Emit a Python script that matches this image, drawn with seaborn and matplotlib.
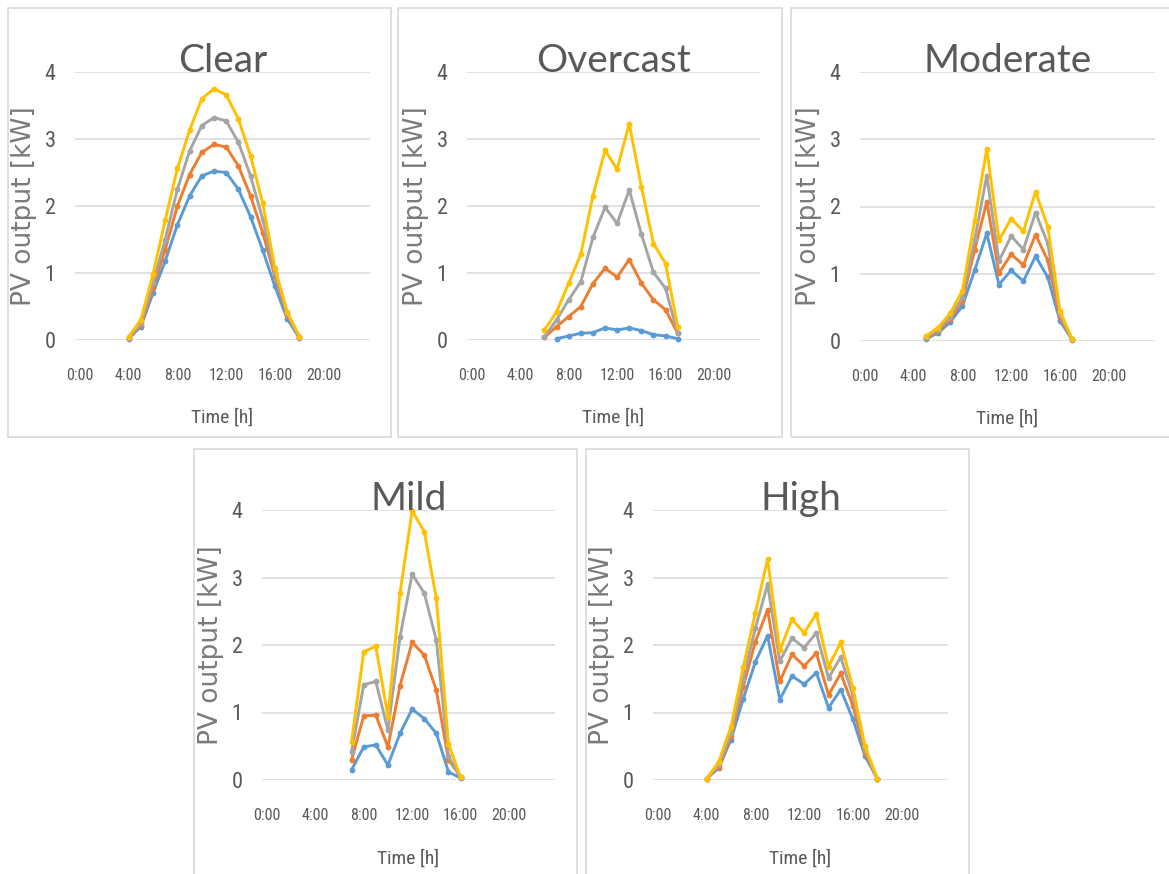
import numpy as np
import pandas as pd
import matplotlib
matplotlib.use("Agg")
import matplotlib.pyplot as plt
import matplotlib.font_manager as fm
from matplotlib.patches import Rectangle
import seaborn as sns

# ---------------- data ----------------
series_names = ["S1", "S2", "S3", "S4"]
series_colors = ["#5B9BD5", "#ED7D31", "#A5A5A5", "#FFC000"]

panel_titles = ["Clear", "Overcast", "Moderate", "Mild", "High"]

clear_hours = list(range(4, 19))
clear_s1 = [0.02, 0.2, 0.7, 1.18, 1.72, 2.15, 2.45, 2.52, 2.5, 2.25, 1.84, 1.34, 0.8, 0.32, 0.03]
clear_s2 = [0.03, 0.22, 0.78, 1.35, 2.0, 2.47, 2.8, 2.92, 2.88, 2.6, 2.15, 1.6, 0.95, 0.38, 0.05]
clear_s3 = [0.03, 0.25, 0.85, 1.5, 2.25, 2.82, 3.2, 3.32, 3.27, 2.95, 2.45, 1.8, 1.0, 0.4, 0.05]
clear_s4 = [0.05, 0.3, 0.98, 1.79, 2.56, 3.13, 3.6, 3.75, 3.66, 3.3, 2.75, 2.04, 1.08, 0.42, 0.05]

overcast_hours = list(range(6, 18))
overcast_hours_s1 = list(range(7, 18))
overcast_s1 = [0.02, 0.06, 0.1, 0.11, 0.18, 0.15, 0.18, 0.14, 0.08, 0.06, 0.02]
overcast_s2 = [0.04, 0.2, 0.35, 0.5, 0.84, 1.07, 0.94, 1.2, 0.85, 0.6, 0.45, 0.1]
overcast_s3 = [0.05, 0.3, 0.6, 0.87, 1.53, 1.98, 1.74, 2.24, 1.58, 1.01, 0.77, 0.1]
overcast_s4 = [0.15, 0.42, 0.85, 1.28, 2.15, 2.83, 2.55, 3.23, 2.29, 1.44, 1.14, 0.2]

moderate_hours = list(range(5, 18))
moderate_s1 = [0.03, 0.12, 0.28, 0.52, 1.05, 1.6, 0.84, 1.05, 0.89, 1.26, 0.95, 0.3, 0.02]
moderate_s2 = [0.04, 0.15, 0.32, 0.6, 1.35, 2.07, 1.01, 1.29, 1.13, 1.58, 1.2, 0.35, 0.03]
moderate_s3 = [0.05, 0.17, 0.35, 0.65, 1.5, 2.46, 1.19, 1.56, 1.36, 1.91, 1.45, 0.4, 0.03]
moderate_s4 = [0.07, 0.2, 0.41, 0.75, 1.78, 2.86, 1.5, 1.82, 1.63, 2.22, 1.7, 0.45, 0.03]

mild_hours = list(range(7, 17))
mild_s1 = [0.15, 0.49, 0.52, 0.22, 0.69, 1.05, 0.91, 0.69, 0.12, 0.03]
mild_s2 = [0.3, 0.95, 0.96, 0.49, 1.4, 2.04, 1.85, 1.33, 0.3, 0.05]
mild_s3 = [0.42, 1.41, 1.46, 0.74, 2.12, 3.05, 2.77, 2.07, 0.35, 0.04]
mild_s4 = [0.57, 1.9, 1.98, 0.94, 2.77, 3.99, 3.68, 2.69, 0.54, 0.04]

high_hours = list(range(4, 19))
high_s1 = [0.02, 0.18, 0.6, 1.2, 1.75, 2.14, 1.19, 1.54, 1.42, 1.59, 1.07, 1.34, 0.9, 0.35, 0.02]
high_s2 = [0.02, 0.2, 0.65, 1.38, 2.05, 2.52, 1.46, 1.86, 1.69, 1.88, 1.26, 1.58, 1.1, 0.4, 0.02]
high_s3 = [0.02, 0.22, 0.7, 1.5, 2.25, 2.9, 1.76, 2.1, 1.96, 2.18, 1.51, 1.82, 1.25, 0.45, 0.02]
high_s4 = [0.02, 0.27, 0.79, 1.67, 2.48, 3.27, 1.92, 2.38, 2.18, 2.46, 1.68, 2.04, 1.36, 0.5, 0.02]

x_ticks = [0, 4, 8, 12, 16, 20]
x_tick_labels = ["0:00", "4:00", "8:00", "12:00", "16:00", "20:00"]
y_ticks = [0, 1, 2, 3, 4]

panels = [
    (panel_titles[0], [(clear_hours, clear_s1), (clear_hours, clear_s2), (clear_hours, clear_s3), (clear_hours, clear_s4)]),
    (panel_titles[1], [(overcast_hours_s1, overcast_s1), (overcast_hours, overcast_s2), (overcast_hours, overcast_s3), (overcast_hours, overcast_s4)]),
    (panel_titles[2], [(moderate_hours, moderate_s1), (moderate_hours, moderate_s2), (moderate_hours, moderate_s3), (moderate_hours, moderate_s4)]),
    (panel_titles[3], [(mild_hours, mild_s1), (mild_hours, mild_s2), (mild_hours, mild_s3), (mild_hours, mild_s4)]),
    (panel_titles[4], [(high_hours, high_s1), (high_hours, high_s2), (high_hours, high_s3), (high_hours, high_s4)]),
]

# ---------------- style ----------------
sns.set_theme(style="white")


def pick(names):
    for n in names:
        try:
            fm.findfont(fm.FontProperties(family=n), fallback_to_default=False)
            return n
        except Exception:
            pass
    return "DejaVu Sans"


narrow = pick(["Liberation Sans Narrow", "DejaVu Sans Condensed", "Roboto Condensed", "Liberation Sans"])
title_font = pick(["Lato", "Open Sans", "DejaVu Sans"])
plt.rcParams["font.family"] = [narrow, "DejaVu Sans"]

W, H = 1169, 874
fig = plt.figure(figsize=(W / 100, H / 100), dpi=100)
fig.patch.set_facecolor("white")

# chart boxes (left, top, right, bottom) in pixels
boxes = [(8, 8, 391, 437), (398, 8, 782, 437), (791, 8, 1175, 437),
         (194, 449, 577, 880), (586, 449, 969, 880)]
# plot areas (left, top, right, bottom) in pixels
areas = [(75, 72, 370, 340), (467, 72, 760, 340), (860, 72, 1155, 341),
         (262, 510, 555, 780), (653, 510, 948, 780)]

for (l, t, r, b) in boxes:
    fig.patches.append(Rectangle((l / W, 1 - b / H), (r - l) / W, (b - t) / H,
                                 transform=fig.transFigure, facecolor="none",
                                 edgecolor="#d9d9d9", linewidth=1.2, zorder=0))

text_gray = "#595959"

for (title, series), (l, t, r, b) in zip(panels, areas):
    ax = fig.add_axes([l / W, 1 - b / H, (r - l) / W, (b - t) / H])
    ax.set_facecolor("none")
    rows = []
    for name, (hrs, vals) in zip(series_names, series):
        for h_, v in zip(hrs, vals):
            rows.append({"hour": h_, "kW": v, "series": name})
    df = pd.DataFrame(rows)
    sns.lineplot(data=df, x="hour", y="kW", hue="series", hue_order=series_names,
                 palette=series_colors, marker="o", markersize=4.2,
                 markeredgewidth=0, linewidth=2.1, legend=False, ax=ax)
    for ln in ax.lines:
        ln.set_clip_on(False)
        ln.set_zorder(3)
    ax.set_xlim(-0.4, 23.8)
    ax.set_ylim(0, 4)
    ax.set_xticks(x_ticks)
    ax.set_xticklabels(x_tick_labels)
    ax.set_yticks(y_ticks)
    ax.grid(axis="y", color="#d9d9d9", linewidth=1.1)
    ax.grid(axis="x", visible=False)
    ax.set_axisbelow(True)
    for s in ax.spines.values():
        s.set_visible(False)
    ax.tick_params(axis="x", length=0, pad=20, labelsize=11.5, labelcolor=text_gray)
    ax.tick_params(axis="y", length=0, pad=14, labelsize=16, labelcolor=text_gray)
    ax.set_title(title, fontsize=28, color=text_gray, pad=0, family=[title_font, "DejaVu Sans"])
    ax.set_xlabel("Time [h]", fontsize=14, color=text_gray)
    ax.xaxis.set_label_coords(0.5, -0.255)
    ax.set_ylabel("PV output [kW]", fontsize=19, color="#7a7a7a", family=["DejaVu Sans"])
    ax.yaxis.set_label_coords(-0.13, 0.5)

fig.savefig("out.png", dpi=100, facecolor="white")
